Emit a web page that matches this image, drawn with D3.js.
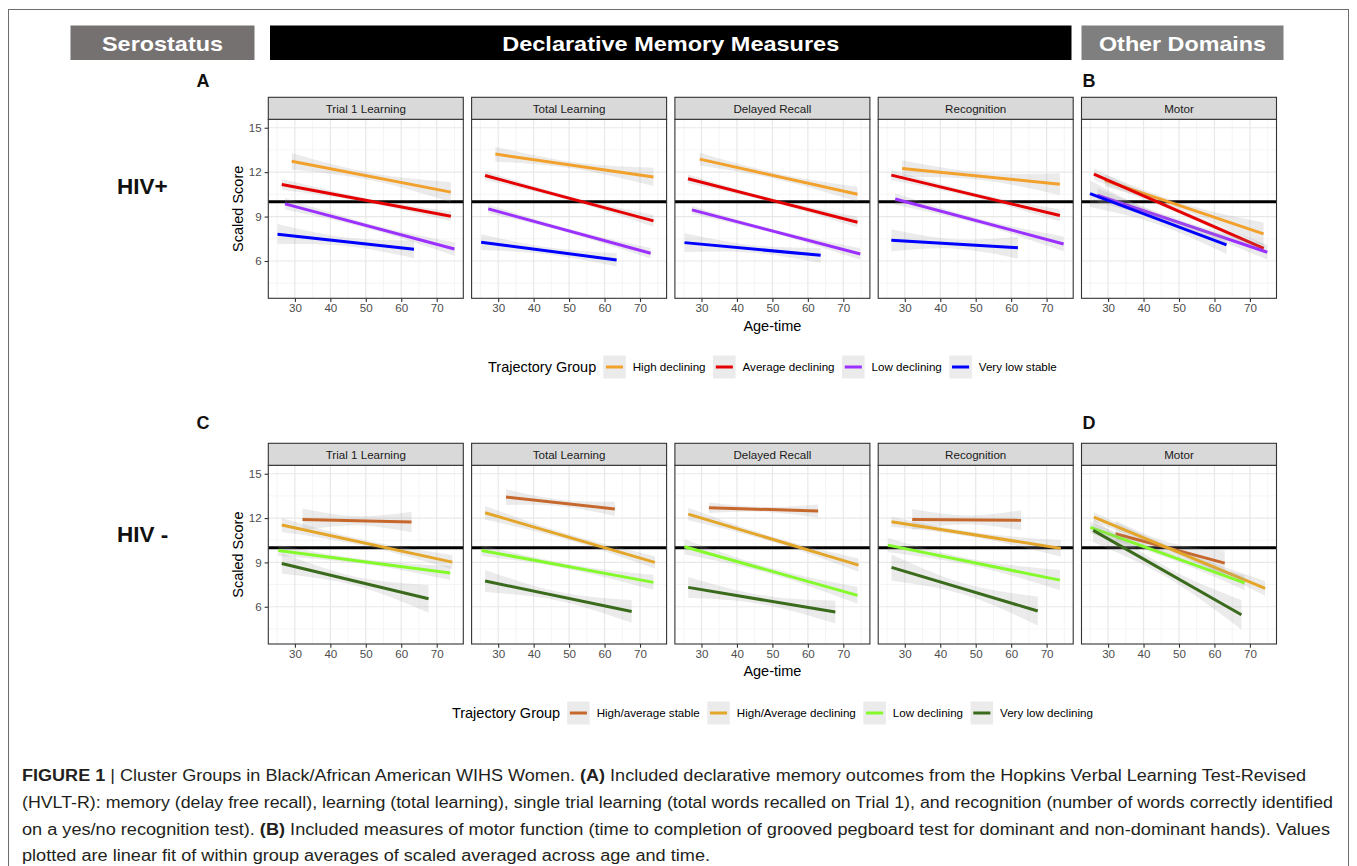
<!DOCTYPE html>
<html><head><meta charset="utf-8">
<script src="https://cdn.jsdelivr.net/npm/d3@7"></script>
<style>body{margin:0;background:#fff}svg{display:block}text{font-family:"Liberation Sans",Arial,Helvetica,sans-serif}</style>
</head><body><svg id="chart" width="1357" height="866"></svg>
<script>
// ---------- data ----------
const panelTitles = ["Trial 1 Learning", "Total Learning", "Delayed Recall", "Recognition", "Motor"];
const xTicks = [30, 40, 50, 60, 70];
const xMinorTicks = [25, 35, 45, 55, 65, 75];
const yTicks = [6, 9, 12, 15];
const yMinorTicks = [4.5, 7.5, 10.5, 13.5];
const referenceScore = 10;
const xTitle = "Age-time";
const yTitle = "Scaled Score";
const legendTitle = "Trajectory Group";

const topGroups = ["High declining", "Average declining", "Low declining", "Very low stable"];
const topColors = ["#f2a12c", "#e40000", "#9b30ff", "#0000ff"];
const bottomGroups = ["High/average stable", "High/Average declining", "Low declining", "Very low declining"];
const bottomColors = ["#c6672c", "#e4a62a", "#84fa2c", "#3a6a1c"];

// each row = one panel: [ageStart, scoreStart, ageEnd, scoreEnd, bandStart, bandMid, bandEnd]
const topHighDeclining = [
  [29.1, 12.74, 74.0, 10.65, 0.56, 0.25, 0.68],
  [29.2, 13.22, 73.8, 11.68, 0.50, 0.22, 0.62],
  [29.5, 12.88, 74.0, 10.51, 0.43, 0.20, 0.50],
  [29.25, 12.25, 73.75, 11.19, 0.56, 0.25, 0.73],
  [29.1, 11.44, 73.85, 7.83, 0.42, 0.22, 0.77]
];
const topAverageDeclining = [
  [26.3, 11.17, 74.0, 9.02, 0.36, 0.15, 0.34],
  [26.3, 11.77, 73.8, 8.71, 0.30, 0.14, 0.40],
  [26.2, 11.55, 74.0, 8.62, 0.30, 0.14, 0.36],
  [26.2, 11.80, 73.75, 9.07, 0.34, 0.16, 0.40],
  [26.0, 11.86, 73.9, 6.86, 0.37, 0.16, 0.34]
];
const topLowDeclining = [
  [27.2, 9.86, 75.0, 6.81, 0.39, 0.17, 0.45],
  [27.2, 9.52, 73.0, 6.52, 0.30, 0.14, 0.36],
  [27.3, 9.45, 74.8, 6.47, 0.27, 0.14, 0.39],
  [27.3, 10.19, 74.8, 7.15, 0.39, 0.18, 0.50],
  [27.0, 10.45, 74.9, 6.59, 0.47, 0.20, 0.50]
];
const topVeryLowStable = [
  [25.1, 7.81, 63.6, 6.79, 0.68, 0.28, 0.60],
  [25.2, 7.27, 63.4, 6.07, 0.53, 0.24, 0.45],
  [25.2, 7.24, 63.6, 6.38, 0.64, 0.26, 0.50],
  [26.2, 7.40, 61.9, 6.90, 0.75, 0.32, 0.73],
  [24.9, 10.55, 63.4, 7.09, 0.90, 0.35, 0.62]
];
const bottomHighAverageStable = [
  [32.15, 11.91, 62.9, 11.73, 0.74, 0.30, 0.69],
  [32.2, 13.42, 62.9, 12.62, 0.53, 0.22, 0.48],
  [32.1, 12.70, 62.9, 12.47, 0.36, 0.16, 0.45],
  [32.1, 11.91, 62.8, 11.85, 0.71, 0.30, 0.68],
  [32.1, 10.94, 62.9, 8.95, 0.90, 0.38, 0.85]
];
const bottomHighAverageDeclining = [
  [26.3, 11.53, 74.4, 9.02, 0.48, 0.20, 0.48],
  [26.3, 12.36, 74.2, 9.00, 0.45, 0.20, 0.42],
  [26.25, 12.27, 74.3, 8.82, 0.42, 0.18, 0.45],
  [26.25, 11.75, 74.0, 9.95, 0.34, 0.17, 0.56],
  [26.0, 12.07, 74.3, 7.24, 0.32, 0.16, 0.50]
];
const bottomLowDeclining = [
  [25.3, 9.81, 73.8, 8.28, 0.37, 0.16, 0.47],
  [25.3, 9.81, 73.8, 7.65, 0.37, 0.17, 0.50],
  [25.2, 10.06, 74.0, 6.77, 0.50, 0.20, 0.56],
  [25.2, 10.17, 73.75, 7.80, 0.48, 0.22, 0.68],
  [25.0, 11.37, 68.5, 7.62, 0.40, 0.18, 0.50]
];
const bottomVeryLowDeclining = [
  [26.3, 8.93, 67.7, 6.54, 0.70, 0.30, 0.94],
  [26.3, 7.74, 67.65, 5.68, 0.75, 0.30, 0.77],
  [26.25, 7.31, 67.75, 5.64, 0.70, 0.30, 0.77],
  [26.25, 8.66, 67.5, 5.71, 0.90, 0.38, 0.98],
  [25.8, 11.17, 67.6, 5.46, 0.80, 0.34, 1.00]
];

const captionLines = [
  [["FIGURE 1", true], [" | Cluster Groups in Black/African American WIHS Women. ", false], ["(A)", true], [" Included declarative memory outcomes from the Hopkins Verbal Learning Test-Revised", false]],
  [["(HVLT-R): memory (delay free recall), learning (total learning), single trial learning (total words recalled on Trial 1), and recognition (number of words correctly identified", false]],
  [["on a yes/no recognition test). ", false], ["(B)", true], [" Included measures of motor function (time to completion of grooved pegboard test for dominant and non-dominant hands). Values", false]],
  [["plotted are linear fit of within group averages of scaled averaged across age and time.", false]]
];

// ---------- layout ----------
const svg = d3.select("#chart");
const W = 1357;
svg.append("rect").attr("x", 0).attr("y", 0).attr("width", W).attr("height", 866).attr("fill", "#fff");
svg.append("rect").attr("x", 8.5).attr("y", 9.5).attr("width", 1340).attr("height", 900)
  .attr("fill", "none").attr("stroke", "#6d6d6d").attr("stroke-width", 1);

// header boxes
const headers = [
  {t: "Serostatus", x0: 70.5, x1: 254.5, fill: "#767171", tw: 121},
  {t: "Declarative Memory Measures", x0: 270, x1: 1071.5, fill: "#000000", tw: 337},
  {t: "Other Domains", x0: 1081.5, x1: 1283.5, fill: "#7f7f7f", tw: 167}
];
headers.forEach(h => {
  svg.append("rect").attr("x", h.x0).attr("y", 25.5).attr("width", h.x1 - h.x0).attr("height", 34.5).attr("fill", h.fill);
  svg.append("text").attr("x", (h.x0 + h.x1) / 2).attr("y", 50.5).attr("text-anchor", "middle")
    .attr("fill", "#fff").attr("font-size", 21).attr("font-weight", "bold")
    .attr("textLength", h.tw).attr("lengthAdjust", "spacingAndGlyphs").text(h.t);
});

// panel letters and row labels
[["A", 203, 86.5], ["B", 1089, 86.5], ["C", 203, 428.5], ["D", 1089, 428.5]].forEach(d => {
  svg.append("text").attr("x", d[1]).attr("y", d[2]).attr("text-anchor", "middle")
    .attr("font-size", 18).attr("font-weight", "bold").attr("fill", "#111").text(d[0]);
});
[["HIV+", 193.5], ["HIV -", 541.5]].forEach(d => {
  svg.append("text").attr("x", 117).attr("y", d[1]).attr("font-size", 22.5).attr("font-weight", "bold")
    .attr("fill", "#111").text(d[0]);
});

const panelW = 195, panelPitch = 203.3, panelLeft0 = 268.3;
const xDomain = [22.5, 77.5];
const yDomain = [3.48, 15.57];

const rows = [
  {stripTop: 97.3, top: 119.3, bottom: 298.3, groups: topGroups, colors: topColors,
   fits: [topHighDeclining, topAverageDeclining, topLowDeclining, topVeryLowStable],
   xTitleY: 330.5, legendY: 367},
  {stripTop: 443.3, top: 465.3, bottom: 644.0, groups: bottomGroups, colors: bottomColors,
   fits: [bottomHighAverageStable, bottomHighAverageDeclining, bottomLowDeclining, bottomVeryLowDeclining],
   xTitleY: 675.5, legendY: 713}
];

const smallFont = 11.6, titleFont = 14.5;

rows.forEach(row => {
  const y = d3.scaleLinear().domain(yDomain).range([row.bottom, row.top]);
  panelTitles.forEach((title, pi) => {
    const left = panelLeft0 + pi * panelPitch;
    const x = d3.scaleLinear().domain(xDomain).range([left, left + panelW]);
    const g = svg.append("g");
    // background
    g.append("rect").attr("x", left).attr("y", row.top).attr("width", panelW).attr("height", row.bottom - row.top).attr("fill", "#fff");
    // minor grid
    g.selectAll(".xm").data(xMinorTicks).enter().append("line")
      .attr("x1", d => x(d)).attr("x2", d => x(d)).attr("y1", row.top).attr("y2", row.bottom)
      .attr("stroke", "#f0f0f0").attr("stroke-width", 0.7);
    g.selectAll(".ym").data(yMinorTicks).enter().append("line")
      .attr("x1", left).attr("x2", left + panelW).attr("y1", d => y(d)).attr("y2", d => y(d))
      .attr("stroke", "#f0f0f0").attr("stroke-width", 0.7);
    // major grid
    g.selectAll(".xM").data(xTicks).enter().append("line")
      .attr("x1", d => x(d)).attr("x2", d => x(d)).attr("y1", row.top).attr("y2", row.bottom)
      .attr("stroke", "#e8e8e8").attr("stroke-width", 1.2);
    g.selectAll(".yM").data(yTicks).enter().append("line")
      .attr("x1", left).attr("x2", left + panelW).attr("y1", d => y(d)).attr("y2", d => y(d))
      .attr("stroke", "#e8e8e8").attr("stroke-width", 1.2);
    // reference line
    g.append("line").attr("x1", left).attr("x2", left + panelW)
      .attr("y1", y(referenceScore)).attr("y2", y(referenceScore))
      .attr("stroke", "#000").attr("stroke-width", 3);
    // groups: ribbon then line, in order
    row.fits.forEach((fitArr, gi) => {
      const f = fitArr[pi];
      const xm = (f[0] + f[2]) / 2, ym = (f[1] + f[3]) / 2;
      const band = [
        {a: f[0], c: f[1], w: f[4]},
        {a: xm, c: ym, w: f[5]},
        {a: f[2], c: f[3], w: f[6]}
      ];
      const area = d3.area().curve(d3.curveNatural)
        .x(d => x(d.a)).y0(d => y(d.c - d.w)).y1(d => y(d.c + d.w));
      g.append("path").attr("d", area(band)).attr("fill", "#999999").attr("fill-opacity", 0.2);
      g.append("line").attr("x1", x(f[0])).attr("y1", y(f[1])).attr("x2", x(f[2])).attr("y2", y(f[3]))
        .attr("stroke", row.colors[gi]).attr("stroke-width", 3);
    });
    // border
    g.append("rect").attr("x", left).attr("y", row.top).attr("width", panelW).attr("height", row.bottom - row.top)
      .attr("fill", "none").attr("stroke", "#333").attr("stroke-width", 1.1);
    // strip
    g.append("rect").attr("x", left).attr("y", row.stripTop).attr("width", panelW).attr("height", row.top - row.stripTop)
      .attr("fill", "#d9d9d9").attr("stroke", "#333").attr("stroke-width", 1.1);
    g.append("text").attr("x", left + panelW / 2).attr("y", (row.stripTop + row.top) / 2 + 4.2)
      .attr("text-anchor", "middle").attr("font-size", smallFont).attr("fill", "#1a1a1a").text(title);
    // x axis
    const xa = g.append("g").attr("transform", `translate(0,${row.bottom})`)
      .call(d3.axisBottom(x).tickValues(xTicks).tickSize(3.7).tickPadding(2.2));
    xa.select(".domain").remove();
    xa.attr("font-family", null).attr("font-size", null);
    xa.selectAll("line").attr("stroke", "#333").attr("stroke-width", 1.1);
    xa.selectAll("text").attr("fill", "#4d4d4d").attr("font-size", smallFont);
    // y axis (first panel only)
    if (pi === 0) {
      const ya = g.append("g").attr("transform", `translate(${left},0)`)
        .call(d3.axisLeft(y).tickValues(yTicks).tickSize(3.7).tickPadding(3));
      ya.select(".domain").remove();
      ya.attr("font-family", null).attr("font-size", null);
      ya.selectAll("line").attr("stroke", "#333").attr("stroke-width", 1.1);
      ya.selectAll("text").attr("fill", "#4d4d4d").attr("font-size", smallFont);
    }
  });
  const rowCenterX = panelLeft0 + (4 * panelPitch + panelW) / 2;
  // axis titles
  svg.append("text").attr("x", rowCenterX).attr("y", row.xTitleY).attr("text-anchor", "middle")
    .attr("font-size", titleFont).attr("fill", "#000").text(xTitle);
  svg.append("text").attr("transform", `translate(242.5,${(row.top + row.bottom) / 2}) rotate(-90)`)
    .attr("text-anchor", "middle").attr("font-size", titleFont).attr("fill", "#000").text(yTitle);

  // legend
  const lg = svg.append("g");
  const keyW = 22.5, keyH = 23;
  let cx = 0;
  const tt = lg.append("text").attr("x", 0).attr("y", row.legendY + 5).attr("font-size", titleFont).attr("fill", "#000").text(legendTitle);
  cx = tt.node().getComputedTextLength() + 7;
  row.groups.forEach((name, gi) => {
    lg.append("rect").attr("x", cx).attr("y", row.legendY - keyH / 2).attr("width", keyW).attr("height", keyH)
      .attr("fill", "#ebebeb");
    lg.append("line").attr("x1", cx + keyW * 0.12).attr("x2", cx + keyW * 0.88)
      .attr("y1", row.legendY).attr("y2", row.legendY).attr("stroke", row.colors[gi]).attr("stroke-width", 3);
    cx += keyW + 7;
    const t = lg.append("text").attr("x", cx).attr("y", row.legendY + 4.2).attr("font-size", smallFont).attr("fill", "#000").text(name);
    cx += t.node().getComputedTextLength();
    if (gi < row.groups.length - 1) cx += 7.5;
  });
  lg.attr("transform", `translate(${rowCenterX - cx / 2},0)`);
});

// caption
const capY = [781, 808, 834.5, 861];
const capW = [1284, 1311, 1308, 688];
captionLines.forEach((parts, i) => {
  const t = svg.append("text").attr("x", 22).attr("y", capY[i]).attr("font-size", 16).attr("fill", "#231f20")
    .attr("textLength", capW[i]).attr("lengthAdjust", "spacingAndGlyphs");
  parts.forEach(p => {
    t.append("tspan").attr("font-weight", p[1] ? "bold" : null).text(p[0]);
  });
});
</script>
</body></html>
